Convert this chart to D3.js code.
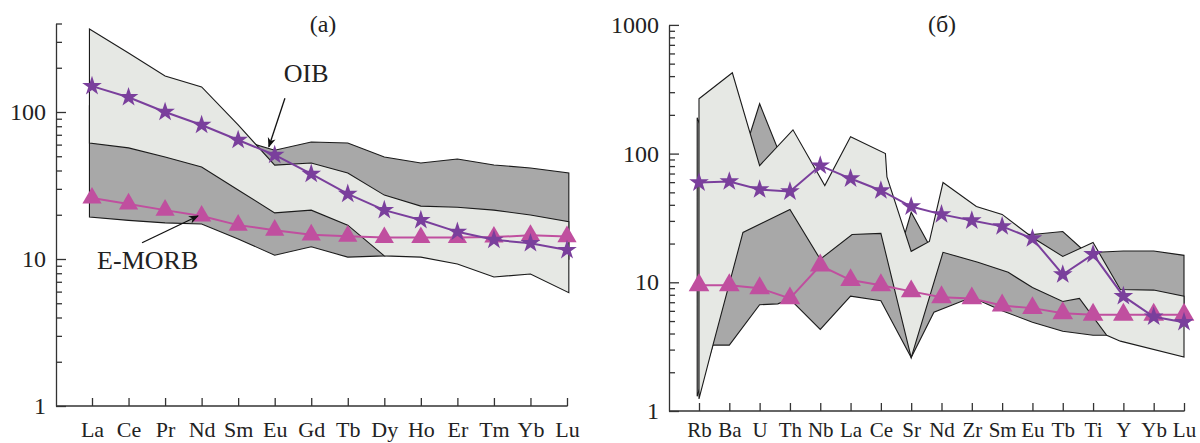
<!DOCTYPE html>
<html>
<head>
<meta charset="UTF-8">
<script src="https://cdn.jsdelivr.net/npm/d3@7"></script>
<style>
  body { margin: 0; background: #fff; }
  svg text { font-family: "Liberation Serif", "Times New Roman", "DejaVu Serif", serif; fill: #222; }
</style>
</head>
<body>
<svg id="chart" width="1200" height="443"></svg>
<script>
// ---- panel (а): REE, chondrite normalised ----
var reeCats = ["La","Ce","Pr","Nd","Sm","Eu","Gd","Tb","Dy","Ho","Er","Tm","Yb","Lu"];
var reeOIB = [150, 126, 100, 81.6, 64.5, 51, 37.9, 27.7, 21.5, 18.4, 15.3, 13.5, 12.8, 11.5];
var reeEMORB = [26, 23.7, 21.5, 19.6, 17, 15.7, 14.6, 14.3, 14, 14, 14, 14.1, 14.5, 14.2];
// fields as [category index, value], left to right
var reeLightTop = [[-0.07,367],[1,252],[2,176],[3,148],[4,81.6],[5,43.5],[6,45],[7,38.5],[8,27.2],[9,22.9],[10,22.5],[11,21.5],[12,19.9],[13.05,17.9]];
var reeLightBot = [[-0.07,61.5],[1,57],[2,49.4],[3,42.3],[4,29.5],[5,20.6],[6,21.5],[7,17],[8,10.5],[9,10.3],[10,9.25],[11,7.55],[12,7.9],[13.05,5.9]];
var reeDarkTop = [[-0.07,110],[1,100],[2,90],[3,75],[4,65],[5,55],[6,62.5],[7,61.6],[8,49.4],[9,45],[10,47.9],[11,43.6],[12,41.6],[13.05,38.5]];
var reeDarkBot = [[-0.07,19.3],[1,18.3],[2,17.6],[3,17.3],[4,13.7],[5,10.6],[6,12.1],[7,10.3],[8,10.5],[9,12],[10,12],[11,11],[12,11],[13.05,10]];

// ---- panel (б): spider, primitive mantle normalised ----
var spCats = ["Rb","Ba","U","Th","Nb","La","Ce","Sr","Nd","Zr","Sm","Eu","Tb","Ti","Y","Yb","Lu"];
var spOIB = [59.6, 60.7, 52.6, 50.7, 80.7, 64, 51.7, 38.8, 33.7, 30.2, 27.2, 21.9, 11.5, 16.5, 7.8, 5.4, 4.9];
var spEMORB = [9.5, 9.5, 9.0, 7.5, 13.5, 10.4, 9.5, 8.5, 7.65, 7.5, 6.6, 6.3, 5.75, 5.6, 5.6, 5.6, 5.6];
var spLightTop = [[0,267],[1.1,425],[2,80.7],[3.1,153],[4.15,56.5],[5,135],[6.15,100],[6.2,66],[7,17.4],[7.6,20.8],[8.05,59.6],[9.15,38.8],[10,33.7],[11,22.3],[12,15.9],[13,20.4],[13.9,8.8],[15,8.7],[16,7.8]];
var spLightBot = [[0,1.24],[0.46,3.25],[1.45,24.4],[3,36.8],[4,15.1],[5.05,23.5],[6,24],[7,2.6],[8.05,17.1],[9.2,14.3],[10.2,11.95],[11,9.1],[12,7.1],[12.55,7.5],[13.45,3.88],[13.9,3.49],[16,2.63]];
var spDarkTop = [[-0.06,190],[1,44],[2,244],[2.57,113],[3,75],[4,35],[5,60],[6,45],[6.75,22],[7,35],[7.62,19],[8,30],[9,25],[10,24],[11,23.5],[12,24.8],[12.6,18.5],[13,17],[13.3,17.2],[14,17.5],[15,17.5],[16,16.2]];
var spDarkBot = [[-0.06,1.3],[0.46,3.25],[1,3.25],[2,6.7],[2.6,6.8],[3,7.4],[4,4.3],[5,7.8],[6,7.2],[7,2.6],[7.75,5.85],[9,7.65],[10,6.0],[11,4.9],[12,4.17],[13,3.88],[13.45,3.88],[14,4.8],[15,5],[16,5]];

var starColor = "#7a3f9c";
var triColor = "#c04f9f";

var svg = d3.select("#chart");

var defs = svg.append("defs");
defs.append("marker").attr("id", "arrow")
    .attr("viewBox", "0 0 10 10").attr("refX", 9).attr("refY", 5)
    .attr("markerWidth", 10).attr("markerHeight", 10).attr("markerUnits", "userSpaceOnUse")
    .attr("orient", "auto")
  .append("path").attr("d", "M0,1 L10,5 L0,9 L3,5 Z").attr("fill", "#111");

function drawPanel(p) {
  var g = svg.append("g");
  var x = d3.scaleLinear().domain([0, p.cats.length - 1]).range([p.x0, p.x1]);
  var y = d3.scaleLog().domain(p.yDomain)
      .range([p.yBottom, p.yBottom - p.decade * Math.log10(p.yDomain[1])]);
  var line = d3.line().x(function(d){ return x(d[0]); }).y(function(d){ return y(d[1]); });

  function field(top, bot, fill) {
    var pts = top.concat(bot.slice().reverse());
    g.append("path").attr("d", line(pts) + "Z")
      .attr("fill", fill).attr("stroke", "#1b1b1b").attr("stroke-width", 1.1)
      .attr("stroke-linejoin", "miter");
  }
  field(p.darkTop, p.darkBot, "#a8a8a8");
  field(p.lightTop, p.lightBot, "#e6e8e4");

  function series(vals, color, type, size) {
    var pts = vals.map(function(v, i){ return [i, v]; });
    g.append("path").attr("d", line(pts)).attr("fill", "none")
      .attr("stroke", color).attr("stroke-width", 2);
    g.selectAll(null).data(pts).enter().append("path")
      .attr("d", d3.symbol().type(type).size(size))
      .attr("transform", function(d){ return "translate(" + x(d[0]) + "," + y(d[1]) + ")"; })
      .attr("fill", color);
  }
  series(p.emorb, triColor, d3.symbolTriangle, p.triSize);
  series(p.oib, starColor, d3.symbolStar, 120);

  // y axis: minor then major ticks, pointing inward
  var yMinor = d3.axisLeft(y).tickValues(p.minorTicks).tickSize(-6).tickFormat("");
  var gy1 = g.append("g").attr("transform", "translate(" + p.axisX + ",0)").call(yMinor);
  gy1.select(".domain").remove();
  var yMajor = d3.axisLeft(y).tickValues(p.majorTicks).tickSizeInner(-10).tickSizeOuter(0)
      .tickPadding(10).tickFormat(d3.format("d"));
  var gy = g.append("g").attr("transform", "translate(" + p.axisX + ",0)").call(yMajor);
  [gy1, gy].forEach(function(ax){
    ax.attr("font-family", null).attr("font-size", null);
    ax.selectAll("line, path").attr("stroke", "#333").attr("stroke-width", 1.3);
  });
  gy.selectAll("text").style("font-size", "24px");

  // x axis
  var xAxis = d3.axisBottom(x).tickValues(d3.range(p.cats.length))
      .tickFormat(function(i){ return p.cats[i]; })
      .tickSizeInner(-8).tickSizeOuter(0).tickPadding(p.labelPad);
  var gx = g.append("g").attr("transform", "translate(0," + p.yBottom + ")").call(xAxis);
  gx.select(".domain").remove();
  gx.attr("font-family", null).attr("font-size", null);
  gx.selectAll("line").attr("stroke", "#333").attr("stroke-width", 1.3);
  gx.selectAll("text").style("font-size", p.labelSize);
  g.append("line").attr("x1", p.axisX).attr("x2", x(p.cats.length - 1) + 0.6)
    .attr("y1", p.yBottom).attr("y2", p.yBottom)
    .attr("stroke", "#333").attr("stroke-width", 1.3);

  g.append("text").attr("x", p.titleX).attr("y", 32)
    .attr("text-anchor", "middle").style("font-size", "24px").text(p.title);

  return { x: x, y: y, g: g };
}

var a = drawPanel({
  cats: reeCats, oib: reeOIB, emorb: reeEMORB,
  lightTop: reeLightTop, lightBot: reeLightBot, darkTop: reeDarkTop, darkBot: reeDarkBot,
  x0: 92, x1: 567, axisX: 56, yBottom: 406, decade: 147, yDomain: [1, 400],
  majorTicks: [1, 10, 100],
  minorTicks: [2,3,4,5,6,7,8,9,20,30,40,50,60,70,80,90,200,300,400],
  triSize: 160, title: "(а)", titleX: 323, labelPad: 15, labelSize: "22px"
});

var b = drawPanel({
  cats: spCats, oib: spOIB, emorb: spEMORB,
  lightTop: spLightTop, lightBot: spLightBot, darkTop: spDarkTop, darkBot: spDarkBot,
  x0: 699, x1: 1184, axisX: 669, yBottom: 411, decade: 128.7, yDomain: [1, 1000],
  majorTicks: [1, 10, 100, 1000],
  minorTicks: [2,3,4,5,6,7,8,9,20,30,40,50,60,70,80,90,200,300,400,500,600,700,800,900],
  triSize: 185, title: "(б)", titleX: 942, labelPad: 11, labelSize: "21px"
});

// labels with arrows in panel (а), placed in data coordinates
var notes = [
  { text: "OIB", at: [5.86, 160], from: [5.28, 124], to: [4.84, 58], anchor: "middle" },
  { text: "E-MORB", at: [0.14, 8.55], from: [1.37, 12.9], to: [2.9, 19.6], anchor: "start" }
];
notes.forEach(function(n){
  a.g.append("line")
    .attr("x1", a.x(n.from[0])).attr("y1", a.y(n.from[1]))
    .attr("x2", a.x(n.to[0])).attr("y2", a.y(n.to[1]))
    .attr("stroke", "#111").attr("stroke-width", 1.3)
    .attr("marker-end", "url(#arrow)");
  a.g.append("text").attr("x", a.x(n.at[0])).attr("y", a.y(n.at[1]))
    .attr("text-anchor", n.anchor).style("font-size", "26px").text(n.text);
});
</script>
</body>
</html>
